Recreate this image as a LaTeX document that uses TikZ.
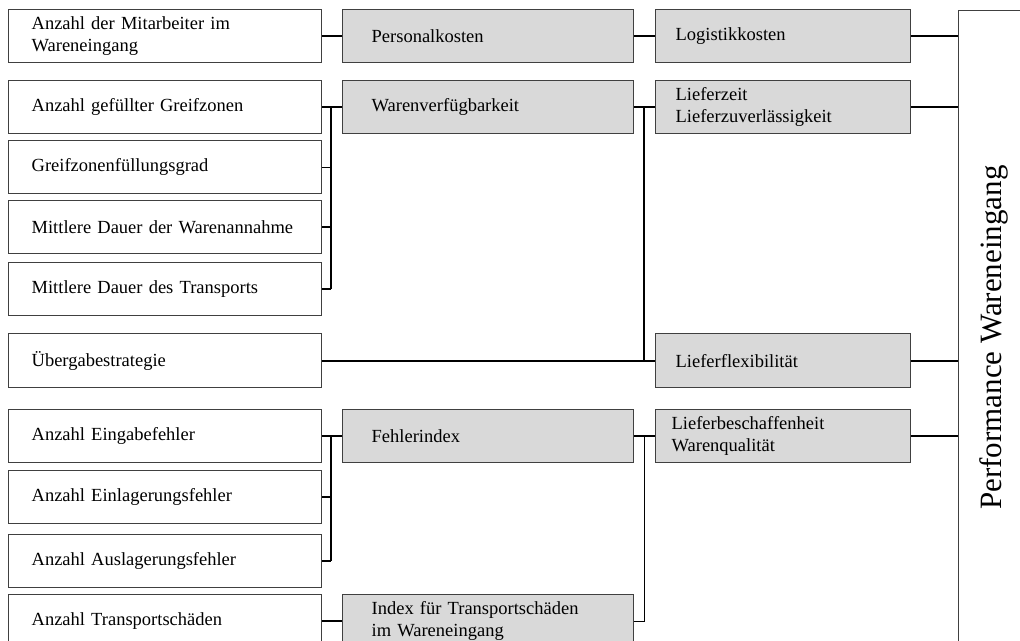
\documentclass[tikz,border=0pt]{standalone}
\usepackage{fontspec}
\setmainfont{Liberation Serif}
\definecolor{graybox}{HTML}{D9D9D9}
\definecolor{bordercol}{HTML}{404040}
\newcommand{\bfs}{\fontsize{18.5}{22}\selectfont}
\newcommand{\pfs}{\fontsize{31}{36}\selectfont}
\tikzset{
  box/.style={draw=bordercol, line width=1.3pt, inner ysep=0pt, minimum height=53pt,
    anchor=north west, align=left, font=\bfs},
  lbox/.style={box, fill=white, inner xsep=23pt, text width=267pt},
  mbox/.style={box, fill=graybox, inner xsep=29pt, text width=233pt},
  rbox/.style={box, fill=graybox, inner xsep=20pt, text width=215pt},
  conn/.style={line width=2pt, black},
  thinconn/.style={line width=1pt, black},
}
\begin{document}
\begin{tikzpicture}[x=1pt, y=-1pt]
\clip (0,0) rectangle (1020,640);
\fill[white] (0,0) rectangle (1020,640);
% left column
\node[lbox] (l1) at (8,9) {Anzahl der Mitarbeiter im\\Wareneingang};
\node[lbox] (l2) at (8,80) {Anzahl gefüllter Greifzonen};
\node[lbox] (l3) at (8,140) {Greifzonenfüllungsgrad};
\node[lbox] (l4) at (8,200) {Mittlere Dauer der Warenannahme};
\node[lbox] (l5) at (8,262) {Mittlere Dauer des Transports};
\node[lbox, minimum height=54pt] (l6) at (8,333) {Übergabestrategie};
\node[lbox] (l7) at (8,409) {Anzahl Eingabefehler};
\node[lbox] (l8) at (8,470) {Anzahl Einlagerungsfehler};
\node[lbox] (l9) at (8,534) {Anzahl Auslagerungsfehler};
\node[lbox] (l10) at (8,594) {Anzahl Transportschäden};
% middle column
\node[mbox] (m1) at (342,9) {Personalkosten};
\node[mbox] (m2) at (342,80) {Warenverfügbarkeit};
\node[mbox] (m3) at (342,409) {Fehlerindex};
\node[mbox] (m4) at (342,594) {Index für Transportschäden\\im Wareneingang};
% right column
\node[rbox] (r1) at (655,9) {Logistikkosten};
\node[rbox] (r2) at (655,80) {Lieferzeit\\Lieferzuverlässigkeit};
\node[rbox, minimum height=54pt] (r3) at (655,333) {Lieferflexibilität};
\node[rbox, inner xsep=16pt, text width=223pt] (r4) at (655,409) {Lieferbeschaffenheit\\Warenqualität};
% performance
\node[draw=bordercol, line width=1.3pt, fill=white, minimum width=70pt, minimum height=654pt,
  anchor=north west, inner sep=0pt] (p) at (958,10) {};
\node[rotate=90, font=\pfs, inner sep=0pt] (ptext) at (p.center) {Performance Wareneingang};
% bus coordinates
\coordinate (busA) at (331,0);
\coordinate (busB) at (644,0);
% row 1
\draw[conn] (l1.east) -- (m1.west);
\draw[conn] (m1.east) -- (r1.west);
\draw[conn] (r1.east) -- (r1.east -| p.west);
% Warenverfügbarkeit group
\draw[conn] (l2.east) -- (m2.west);
\draw[thinconn] (l3.east) -- (busA |- l3.east);
\draw[conn] (l4.east) -- (busA |- l4.east);
\draw[conn] (l5.east) -- (busA |- l5.east);
\draw[conn] (busA |- l2.east) -- (busA |- l5.east);
\draw[conn] (m2.east) -- (r2.west);
\draw[conn] (busB |- m2.east) -- (busB |- r3.west);
\draw[conn] (l6.east) -- (r3.west);
\draw[conn] (r2.east) -- (r2.east -| p.west);
\draw[conn] (r3.east) -- (r3.east -| p.west);
% Fehler group
\draw[conn] (l7.east) -- (m3.west);
\draw[conn] (l8.east) -- (busA |- l8.east);
\draw[conn] (l9.east) -- (busA |- l9.east);
\draw[conn] (busA |- l7.east) -- (busA |- l9.east);
\draw[conn] (l10.east) -- (m4.west);
\draw[conn] (m3.east) -- (r4.west);
\draw[thinconn] (busB |- m3.east) -- (busB |- m4.east) -- (m4.east);
\draw[conn] (r4.east) -- (r4.east -| p.west);
\end{tikzpicture}
\end{document}
